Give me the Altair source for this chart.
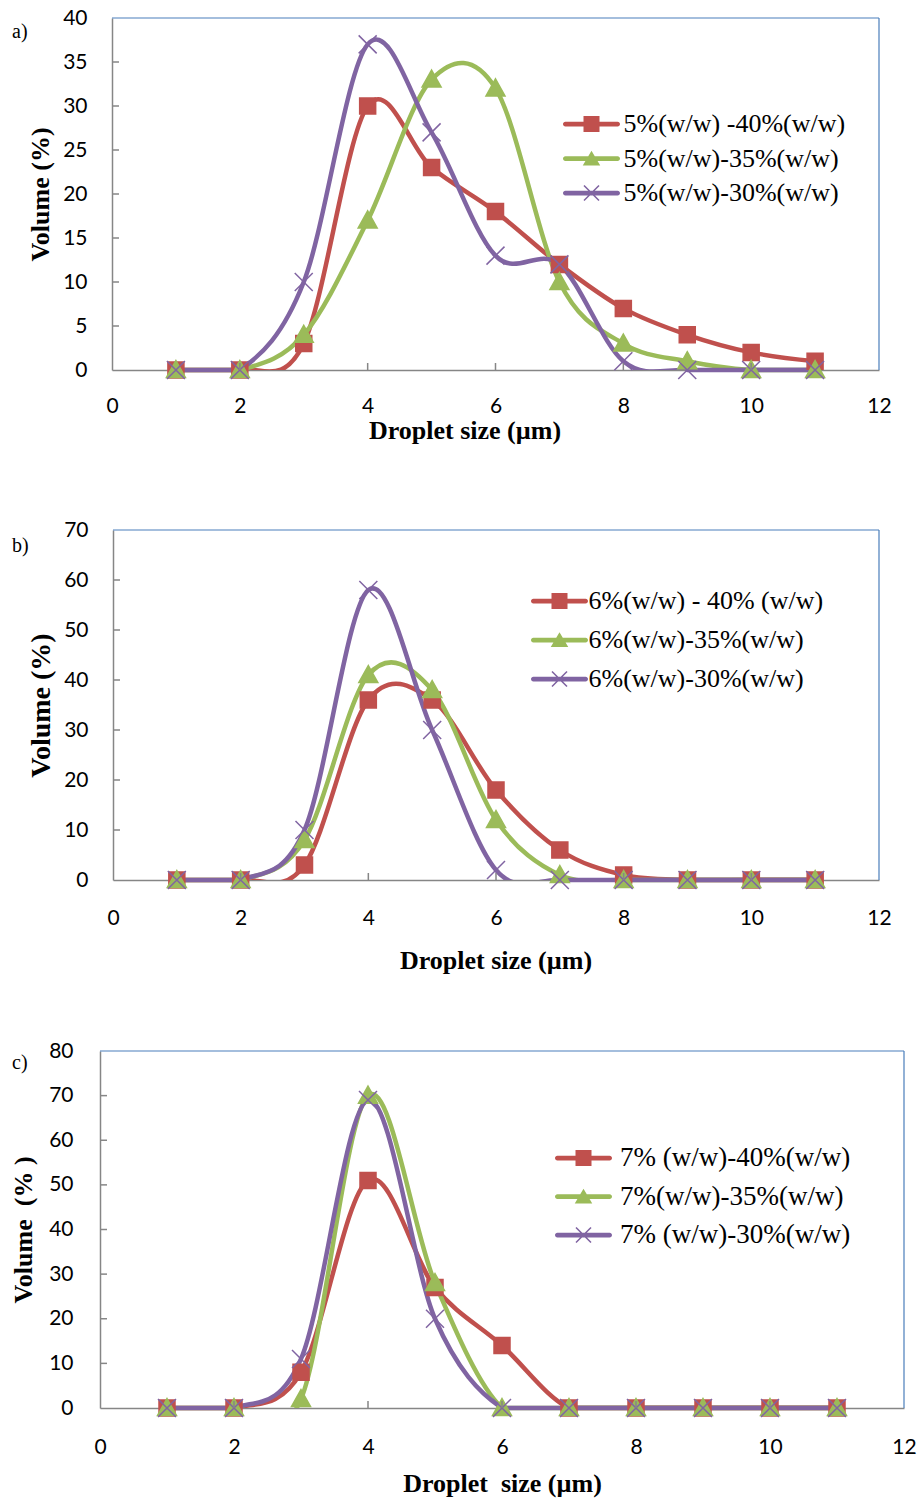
import altair as alt
import pandas as pd

# ---------------- data ----------------
X_VALUES = [1, 2, 3, 4, 5, 6, 7, 8, 9, 10, 11]
X_TICK_LABELS = [0, 2, 4, 6, 8, 10, 12]
X_INNER_TICKS = [2, 4, 6, 8, 10]

A_NAMES = ["5%(w/w) -40%(w/w)", "5%(w/w)-35%(w/w)", "5%(w/w)-30%(w/w)"]
A_40 = [0, 0, 3, 30, 23, 18, 12, 7, 4, 2, 1]
A_35 = [0, 0, 4, 17, 33, 32, 10, 3, 1, 0, 0]
A_30 = [0, 0, 10, 37, 27, 13, 12, 1, 0, 0, 0]
A_YTICKS = [0, 5, 10, 15, 20, 25, 30, 35, 40]

B_NAMES = ["6%(w/w) - 40% (w/w)", "6%(w/w)-35%(w/w)", "6%(w/w)-30%(w/w)"]
B_40 = [0, 0, 3, 36, 36, 18, 6, 1, 0, 0, 0]
B_35 = [0, 0, 8, 41, 38, 12, 1, 0, 0, 0, 0]
B_30 = [0, 0, 10, 58, 30, 2, 0, 0, 0, 0, 0]
B_YTICKS = [0, 10, 20, 30, 40, 50, 60, 70]

C_NAMES = ["7% (w/w)-40%(w/w)", "7%(w/w)-35%(w/w)", "7% (w/w)-30%(w/w)"]
C_40 = [0, 0, 8, 51, 27, 14, 0, 0, 0, 0, 0]
C_35 = [0, 0, 2, 70, 28, 0, 0, 0, 0, 0, 0]
C_30 = [0, 0, 11, 69, 20, 0, 0, 0, 0, 0, 0]
C_YTICKS = [0, 10, 20, 30, 40, 50, 60, 70, 80]

# ---------------- style ----------------
COLORS = ["#C0504D", "#9BBB59", "#8064A2"]
AXIS_GRAY = "#868686"
BORDER_BLUE = "#4A7EBB"
SERIF = "Liberation Serif"
SANS = "Lato"
X0 = 100  # common group origin (screen x)
LINE_W = 4.5

MARKER_PATHS = [
    "M-0.8,-0.8H0.8V0.8H-0.8Z",
    "M0,-0.95L0.95,0.75H-0.95Z",
    "M-0.9,-0.9L0.9,0.9M-0.9,0.9L0.9,-0.9",
]
LINE = "M-2.09,-0.19H2.09A0.19,0.19 0 0 1 2.09,0.19H-2.09A0.19,0.19 0 0 1 -2.09,-0.19Z"
LEGEND_PATHS = [
    LINE + "M-0.64,-0.64H0.64V0.64H-0.64Z",
    LINE + "M0,-0.62L0.7,0.55H-0.7Z",
    LINE + "M-0.555,-0.645L0.645,0.555L0.555,0.645L-0.645,-0.555Z"
         + "M-0.555,0.645L-0.645,0.555L0.555,-0.645L0.645,-0.555Z",
]


def zero_runs(names, series):
    """Consecutive zero-valued points of each series (drawn unclipped on the axis)."""
    rows = []
    run_id = 0
    for name, vals in zip(names, series):
        i = 0
        while i < len(vals):
            if vals[i] == 0:
                j = i
                while j + 1 < len(vals) and vals[j + 1] == 0:
                    j += 1
                if j > i:
                    run_id += 1
                    for k in range(i, j + 1):
                        rows.append({"x": X_VALUES[k], "y": vals[k], "series": name, "run": run_id})
                i = j + 1
            else:
                i += 1
    return pd.DataFrame(rows)


def panel(cfg):
    names = cfg["names"]
    rows = []
    for name, vals in zip(names, cfg["series"]):
        for xv, yv in zip(X_VALUES, vals):
            rows.append({"x": xv, "y": yv, "series": name})
    df = pd.DataFrame(rows)
    left, right = cfg["left"], cfg["right"]   # screen x of plot area
    W = right - X0
    xr0 = left - X0
    H, oy = cfg["H"], cfg["oy"]

    X = alt.X(
        "x:Q",
        scale=alt.Scale(domain=[0, 12], nice=False, zero=False, range=[xr0, W]),
        axis=alt.Axis(
            values=X_TICK_LABELS, title=cfg["xtitle"], grid=False,
            ticks=False, tickSize=0, labelPadding=cfg["xlabpad"],
            labelFont=SANS, labelFontSize=21, labelColor="black",
            labelFlush=False, labelOverlap=False,
            domainColor=AXIS_GRAY, domainWidth=1.5,
            titleFont=SERIF, titleFontSize=26, titleFontWeight="bold",
            titleColor="black", titleX=cfg["xtitle_cx"] - X0, titleY=cfg["xtitle_base"] - (oy + H),
            titleBaseline="alphabetic", titleAlign="center",
        ),
    )
    Y = alt.Y(
        "y:Q",
        scale=alt.Scale(domain=[0, cfg["ymax"]], nice=False),
        axis=alt.Axis(
            values=cfg["yticks"], title=cfg["ytitle"], grid=False, offset=-xr0,
            ticks=False, tickSize=0, labelPadding=cfg["ylabpad"],
            labelFont=SANS, labelFontSize=21, labelColor="black",
            labelFlush=False, labelOverlap=False,
            domainColor=AXIS_GRAY, domainWidth=1.5,
            titleFont=SERIF, titleFontSize=cfg["ytitlesize"], titleFontWeight="bold",
            titleColor="black", titleX=cfg["ytitle_base"] - left, titleY=H / 2,
            titleBaseline="alphabetic", titleAlign="center", titleAngle=270,
        ),
    )
    stroke = alt.Stroke("series:N", scale=alt.Scale(domain=names, range=COLORS), legend=None)

    # smoothed (Excel-like) curves, clipped to the plot area
    lines = alt.Chart(df).mark_line(
        interpolate="cardinal", tension=0, strokeWidth=LINE_W,
        strokeJoin="round", strokeCap="round", clip=True,
    ).encode(x=X, y=Y, stroke=stroke, detail="series:N")

    # flat stretches lying on the x axis, drawn at full width
    zdf = zero_runs(names, cfg["series"])
    zero_lines = alt.Chart(zdf).mark_line(
        strokeWidth=LINE_W, strokeCap="round"
    ).encode(x=X, y=Y, stroke=stroke, detail="run:N")

    points = alt.Chart(df).mark_point(
        filled=True, opacity=1, size=400, strokeWidth=1.5
    ).encode(
        x=X, y=Y, stroke=stroke,
        fill=alt.Fill("series:N", scale=alt.Scale(domain=names, range=COLORS), legend=None),
        shape=alt.Shape("series:N", scale=alt.Scale(domain=names, range=MARKER_PATHS), legend=None),
    )

    fs = cfg["legfont"]
    leg = alt.Legend(
        orient="none", legendX=cfg["leg_sym_left"] - X0, legendY=cfg["leg_first_cy"] - fs / 2 - oy,
        title=None,
        labelFont=SERIF, labelFontSize=fs, labelColor="black", labelLimit=0,
        symbolSize=625, symbolStrokeWidth=0, symbolOpacity=1,
        symbolOffset=28.5 - fs / 2,
        labelOffset=(cfg["leg_lab_left"] - cfg["leg_sym_left"]) - fs - 15,
        rowPadding=cfg["legstep"] - fs, padding=0,
    )
    legend_layer = alt.Chart(df).transform_filter("false").mark_point(
        filled=True, opacity=1, size=625, strokeWidth=0
    ).encode(
        x=X, y=Y,
        fill=alt.Fill("series:N", scale=alt.Scale(domain=names, range=COLORS), legend=leg),
        shape=alt.Shape("series:N", scale=alt.Scale(domain=names, range=LEGEND_PATHS), legend=leg),
    )

    one = pd.DataFrame({"d": [0]})
    ytick_layer = alt.Chart(pd.DataFrame({"y": cfg["yticks"][1:-1]})).mark_rule(
        color=AXIS_GRAY, strokeWidth=1.5
    ).encode(y=Y, x=alt.value(xr0), x2=alt.value(xr0 + 7))
    xtick_layer = alt.Chart(pd.DataFrame({"x": X_INNER_TICKS})).mark_rule(
        color=AXIS_GRAY, strokeWidth=1.5
    ).encode(x=X, y=alt.value(H), y2=alt.value(H - 7))
    top_border = alt.Chart(one).mark_rule(color=BORDER_BLUE, strokeWidth=1.2).encode(
        x=alt.value(xr0), x2=alt.value(W), y=alt.value(0))
    right_border = alt.Chart(one).mark_rule(color=BORDER_BLUE, strokeWidth=1.2).encode(
        x=alt.value(W), y=alt.value(0), y2=alt.value(H))

    label_layer = alt.Chart(pd.DataFrame({"t": [cfg["label"]]})).mark_text(
        align="left", baseline="middle", font=SERIF, fontSize=20, color="black"
    ).encode(text="t:N", x=alt.value(12 - X0), y=alt.value(cfg["labely"] - oy))

    slot_layer = alt.Chart(one).mark_rule(opacity=0, strokeWidth=0).encode(
        x=alt.value(-X0), y=alt.value(cfg["slot"][0] - oy), y2=alt.value(cfg["slot"][1] - oy))

    layers = [top_border, right_border, lines, zero_lines, points, legend_layer,
              ytick_layer, xtick_layer, label_layer, slot_layer]
    return alt.layer(*layers).resolve_scale(
        shape="independent", fill="independent"
    ).properties(width=W, height=H)


NB = "\u00a0"
cfg_a = dict(
    names=A_NAMES, series=[A_40, A_35, A_30], left=112, right=879, H=352, oy=18,
    ymax=40, yticks=A_YTICKS, xtitle="Droplet size (µm)", ytitle="Volume (%)",
    xlabpad=25, ylabpad=25, xtitle_cx=464.5, xtitle_base=438.6, ytitle_base=48, ytitlesize=26,
    leg_sym_left=563, leg_lab_left=623, leg_first_cy=124, legfont=26, legstep=34.5,
    label="a)", labely=32, slot=(0, 470),
)
cfg_b = dict(
    names=B_NAMES, series=[B_40, B_35, B_30], left=113, right=879, H=350, oy=530,
    ymax=70, yticks=B_YTICKS, xtitle="Droplet size (µm)", ytitle="Volume (%)",
    xlabpad=27.5, ylabpad=25, xtitle_cx=495.5, xtitle_base=968.6, ytitle_base=49, ytitlesize=28,
    leg_sym_left=531, leg_lab_left=588, leg_first_cy=601, legfont=26, legstep=39,
    label="b)", labely=546, slot=(470, 1000),
)
cfg_c = dict(
    names=C_NAMES, series=[C_40, C_35, C_30], left=100, right=904, H=357, oy=1051,
    ymax=80, yticks=C_YTICKS, xtitle="Droplet" + NB + " size (µm)",
    ytitle="Volume" + NB + " (%" + NB + ")",
    xlabpad=28, ylabpad=27, xtitle_cx=502, xtitle_base=1491, ytitle_base=31, ytitlesize=26,
    leg_sym_left=555, leg_lab_left=620, leg_first_cy=1158, legfont=27, legstep=37.5,
    label="c)", labely=1063, slot=(1000, 1499),
)

chart = alt.vconcat(
    panel(cfg_a),
    panel(cfg_b),
    panel(cfg_c),
    spacing=0,
).properties(
    padding={"left": 0, "top": 0, "right": 0, "bottom": 0},
    background="white",
).configure_view(stroke="transparent", strokeWidth=0)

chart.save("out.html", embed_options={"renderer": "svg", "actions": False})
